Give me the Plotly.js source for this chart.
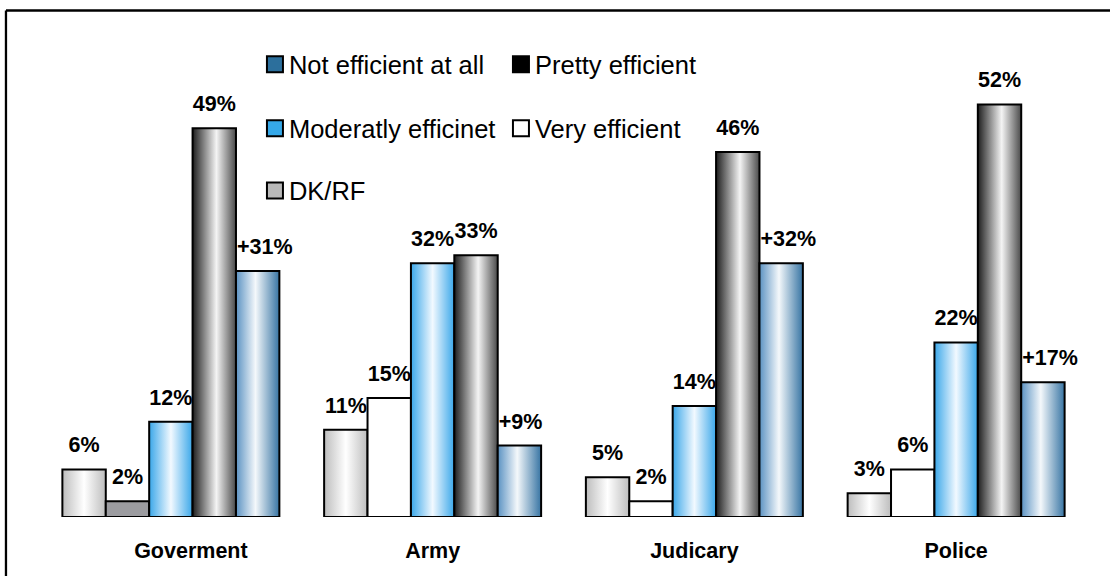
<!DOCTYPE html>
<html>
<head>
<meta charset="utf-8">
<script src="https://cdn.plot.ly/plotly-3.0.1.min.js"></script>
<style>
  html, body { margin: 0; padding: 0; background: #ffffff; }
  #chart { width: 1110px; height: 576px; }
</style>
</head>
<body>
<div id="chart"></div>
<script>
// ---------- data ----------
var categories = ['Goverment', 'Army', 'Judicary', 'Police'];

var dkrf          = [6, 11, 5, 3];
var veryEff       = [2, 15, 2, 6];
var moderatelyEff = [12, 32, 14, 22];
var prettyEff     = [49, 33, 46, 52];
var notEff        = [31, 9, 32, 17];

var dkrfText     = ['6%', '11%', '5%', '3%'];
var veryText     = ['2%', '15%', '2%', '6%'];
var modText      = ['12%', '32%', '14%', '22%'];
var prettyText   = ['49%', '33%', '46%', '52%'];
var notText      = ['+31%', '+9%', '+32%', '+17%'];

var seriesNames = ['DK/RF', 'Very efficient', 'Moderatly efficinet', 'Pretty efficient', 'Not efficient at all'];

// ---------- styles ----------
var FONT = 'Liberation Sans, Arial, Helvetica, sans-serif';
var legendColors = {
  'DK/RF': '#b9b9b9',
  'Very efficient': '#ffffff',
  'Moderatly efficinet': '#35a8e8',
  'Pretty efficient': '#000000',
  'Not efficient at all': '#2c6f9c'
};
var veryColors = ['#9c9ca0', '#ffffff', '#ffffff', '#ffffff'];

var gradients = {
  gDk:   [[0, '#bdbdbd'], [0.5, '#ffffff'], [1, '#bdbdbd']],
  gMod:  [[0, '#3aa7e9'], [0.5, '#f2f9ff'], [1, '#3aa7e9']],
  gPre:  [[0, '#1e1e1e'], [0.55, '#f4f4f4'], [1, '#4a4a4a']],
  gNot:  [[0, '#5b92c2'], [0.45, '#f4f8fb'], [1, '#3774a3']]
};
var traceGradient = ['gDk', null, 'gMod', 'gPre', 'gNot'];

function barTrace(name, y, text, color, legendId, rank) {
  return {
    type: 'bar',
    name: name,
    x: categories,
    y: y,
    text: text,
    textposition: 'outside',
    texttemplate: '%{text}',
    constraintext: 'none',
    cliponaxis: false,
    textfont: { family: FONT, size: 21.5, color: '#000000', weight: 'bold' },
    marker: { color: color, line: { color: '#000000', width: 2 } },
    legend: legendId,
    legendrank: rank,
    hoverinfo: 'skip'
  };
}

var traces = [
  barTrace(seriesNames[0], dkrf, dkrfText, legendColors['DK/RF'], 'legend3', 5),
  barTrace(seriesNames[1], veryEff, veryText, veryColors, 'legend2', 4),
  barTrace(seriesNames[2], moderatelyEff, modText, legendColors['Moderatly efficinet'], 'legend2', 3),
  barTrace(seriesNames[3], prettyEff, prettyText, legendColors['Pretty efficient'], 'legend', 2),
  barTrace(seriesNames[4], notEff, notText, legendColors['Not efficient at all'], 'legend', 1)
];

function legendCfg(y) {
  return {
    orientation: 'h',
    x: 0.2053, xanchor: 'left',
    y: y, yanchor: 'middle',
    bgcolor: 'rgba(0,0,0,0)',
    borderwidth: 0,
    entrywidth: 201,
    entrywidthmode: 'pixels',
    font: { family: FONT, size: 25.5, color: '#000000' },
    traceorder: 'normal',
    itemclick: false, itemdoubleclick: false
  };
}

var layout = {
  width: 1110,
  height: 576,
  margin: { l: 40, r: 23, t: 41, b: 59, pad: 0 },
  paper_bgcolor: '#ffffff',
  plot_bgcolor: '#ffffff',
  barmode: 'group',
  bargap: 0.171,
  bargroupgap: 0,
  showlegend: true,
  legend: legendCfg(0.9505),
  legend2: legendCfg(0.8156),
  legend3: legendCfg(0.685),
  xaxis: {
    type: 'category',
    range: [-0.5, 3.5],
    showgrid: false,
    zeroline: false,
    showline: false,
    ticks: 'outside',
    ticklen: 14,
    tickcolor: 'rgba(0,0,0,0)',
    tickfont: { family: FONT, size: 21.5, color: '#000000', weight: 'bold' },
    fixedrange: true
  },
  yaxis: {
    range: [0, 60],
    showgrid: false,
    zeroline: false,
    showline: false,
    showticklabels: false,
    ticks: '',
    fixedrange: true
  },
  shapes: [
    { type: 'line', xref: 'paper', yref: 'paper', x0: -0.0325, x1: 1.06, y0: 1.0641, y1: 1.0641,
      line: { color: '#000000', width: 2.3 } },
    { type: 'line', xref: 'paper', yref: 'paper', x0: -0.0325, x1: -0.0325, y0: 1.0641, y1: -0.2,
      line: { color: '#000000', width: 2.3 } }
  ],
  hovermode: false
};

var config = { displayModeBar: false, staticPlot: true, responsive: false };

var ns = 'http://www.w3.org/2000/svg';

function prependTransform(el, extra) {
  var cur = el.getAttribute('transform') || '';
  if (el.__fixedTransform === cur) return; // already adjusted
  var next = extra + ' ' + cur;
  el.setAttribute('transform', next);
  el.__fixedTransform = next;
}

function fixUp(gd) {
  var svg = gd.querySelector('svg.main-svg');
  if (!svg) return;
  var defs = svg.querySelector('defs');
  if (!defs) { defs = document.createElementNS(ns, 'defs'); svg.insertBefore(defs, svg.firstChild); }
  Object.keys(gradients).forEach(function (id) {
    if (document.getElementById(id)) return;
    var lg = document.createElementNS(ns, 'linearGradient');
    lg.setAttribute('id', id);
    lg.setAttribute('x1', '0'); lg.setAttribute('y1', '0');
    lg.setAttribute('x2', '1'); lg.setAttribute('y2', '0');
    gradients[id].forEach(function (s) {
      var st = document.createElementNS(ns, 'stop');
      st.setAttribute('offset', s[0]);
      st.setAttribute('stop-color', s[1]);
      lg.appendChild(st);
    });
    defs.appendChild(lg);
  });

  var groups = gd.querySelectorAll('.barlayer .trace.bars');
  groups.forEach(function (g, i) {
    var gid = traceGradient[i];
    g.querySelectorAll('.point').forEach(function (pt) {
      var path = pt.querySelector('path');
      if (gid && path) path.style.fill = 'url(#' + gid + ')';
      var txt = pt.querySelector('text.bartext');
      if (!txt || !path) return;
      var pb = path.getBBox();
      var tb = txt.getBBox();
      var dx = 0;
      if (i === 4 && tb.width > pb.width) dx = (tb.width - pb.width) / 2 + 1;
      prependTransform(txt, 'translate(' + dx.toFixed(2) + ',-9)');
    });
  });

  // legend swatches: larger squares, flat series colours, text closer to swatch
  gd.querySelectorAll('.legendpoints path').forEach(function (p) {
    var d = p.__data__;
    var name = null;
    try { name = d[0].trace.name; } catch (e) {}
    p.setAttribute('d', 'M8,8H-8V-8H8Z');
    if (name && legendColors[name]) p.style.fill = legendColors[name];
  });
  gd.querySelectorAll('.infolayer g.traces > text').forEach(function (t) {
    t.setAttribute('x', '34');
    t.querySelectorAll('tspan[x]').forEach(function (ts) { ts.setAttribute('x', '34'); });
  });

  // first category label sits to the right of its group in the reference
  var firstTick = gd.querySelector('.xtick text');
  if (firstTick) prependTransform(firstTick, 'translate(20,0)');
}

var gdEl = document.getElementById('chart');
Plotly.newPlot(gdEl, traces, layout, config).then(function (gd) {
  fixUp(gd);
  gd.on('plotly_afterplot', function () { fixUp(gd); });
  setTimeout(function () { fixUp(gd); }, 60);
  requestAnimationFrame(function () { fixUp(gd); });
});
</script>
</body>
</html>
